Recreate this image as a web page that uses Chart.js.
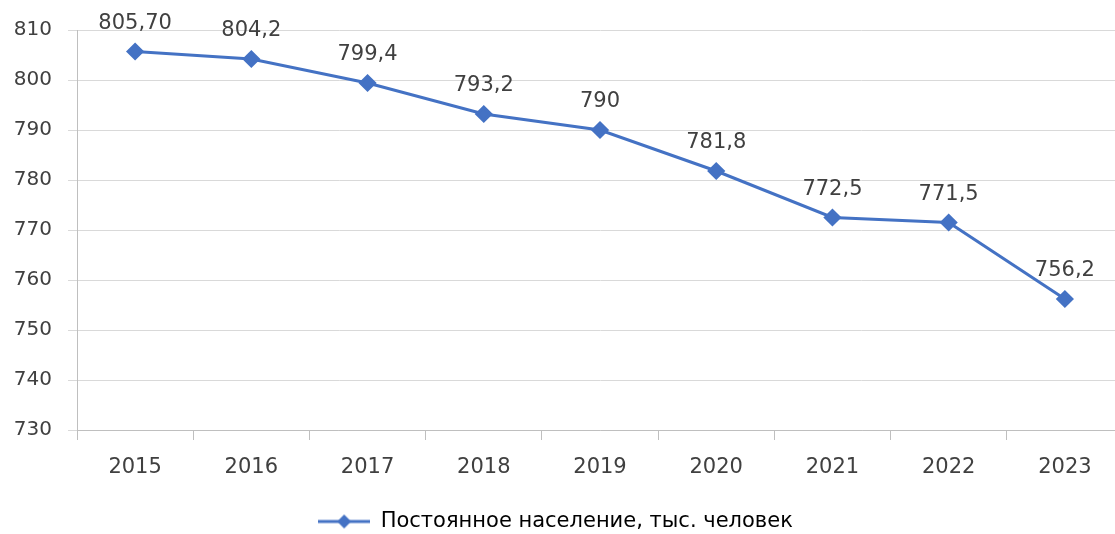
<!DOCTYPE html>
<html>
<head>
<meta charset="utf-8">
<script src="https://cdn.jsdelivr.net/npm/chart.js@4/dist/chart.umd.min.js"></script>
<style>
  html, body { margin: 0; padding: 0; background: #fff; overflow: hidden; }
  #popChart { display: block; }
</style>
</head>
<body>
<canvas id="popChart" width="1123" height="534"></canvas>
<script>
// Постоянное население по годам
const years = ["2015", "2016", "2017", "2018", "2019", "2020", "2021", "2022", "2023"];
const population = [805.7, 804.2, 799.4, 793.2, 790, 781.8, 772.5, 771.5, 756.2];
const valueLabels = ["805,70", "804,2", "799,4", "793,2", "790", "781,8", "772,5", "771,5", "756,2"];
const seriesName = "Постоянное население, тыс. человек";

const blue = "#4472C4";
const fontFamily = "'DejaVu Sans', sans-serif";

// legend marker: line with a diamond in the middle
function legendMarker() {
    const c = document.createElement("canvas");
    c.width = 52; c.height = 16;
    const g = c.getContext("2d");
    g.strokeStyle = blue;
    g.lineWidth = 3;
    g.beginPath(); g.moveTo(0, 8); g.lineTo(52, 8); g.stroke();
    g.fillStyle = blue;
    g.beginPath();
    g.moveTo(26, 1); g.lineTo(33, 8); g.lineTo(26, 15); g.lineTo(19, 8);
    g.closePath(); g.fill();
    return c;
}

// value labels above the points
const pointLabels = {
    id: "pointLabels",
    afterDatasetsDraw(chart) {
        const ctx = chart.ctx;
        const meta = chart.getDatasetMeta(0);
        ctx.save();
        ctx.font = "21px " + fontFamily;
        ctx.fillStyle = "#404040";
        ctx.textAlign = "center";
        ctx.textBaseline = "middle";
        meta.data.forEach((pt, i) => {
            ctx.fillText(valueLabels[i], pt.x, pt.y - 28);
        });
        ctx.restore();
    }
};

// the canvas is a bit wider than the window, so move the legend back to the visible centre
const legendShift = {
    id: "legendShift",
    afterLayout(chart) {
        const lg = chart.legend;
        lg.left -= 6; lg.right -= 6;
        lg.top += 8; lg.bottom += 8;
    }
};

document.addEventListener("DOMContentLoaded", function () {
    const ctx = document.getElementById("popChart");
    new Chart(ctx, {
        type: "line",
        data: {
            labels: years,
            datasets: [{
                label: seriesName,
                data: population,
                borderColor: blue,
                backgroundColor: blue,
                borderWidth: 3,
                tension: 0,
                pointStyle: "rectRot",
                pointRadius: 7,
                pointHoverRadius: 7
            }]
        },
        options: {
            responsive: false,
            animation: false,
            layout: { autoPadding: false, padding: { top: 30, right: 0, bottom: 0, left: 0 } },
            scales: {
                x: {
                    offset: true,
                    grid: {
                        offset: true,
                        drawOnChartArea: false,
                        drawTicks: true,
                        tickLength: 10,
                        color: "#bfbfbf"
                    },
                    border: { display: true, color: "#bfbfbf", width: 1 },
                    ticks: {
                        color: "#404040",
                        padding: 15,
                        font: { family: fontFamily, size: 21 }
                    },
                    afterFit(scale) { scale.height = 60; }
                },
                y: {
                    min: 730,
                    max: 810,
                    ticks: {
                        stepSize: 10,
                        color: "#404040",
                        padding: 16,
                        font: { family: fontFamily, size: 20 }
                    },
                    grid: {
                        color: "#d9d9d9",
                        lineWidth: 1,
                        tickLength: 9,
                        drawTicks: true
                    },
                    border: { display: true, color: "#bfbfbf", width: 1 },
                    afterFit(scale) { scale.width = 77; }
                }
            },
            plugins: {
                legend: {
                    position: "bottom",
                    labels: {
                        usePointStyle: true,
                        pointStyleWidth: 52,
                        color: "#404040",
                        font: { family: fontFamily, size: 21 },
                        padding: 13,
                        generateLabels(chart) {
                            return [{
                                text: seriesName,
                                pointStyle: legendMarker(),
                                fillStyle: blue,
                                strokeStyle: blue,
                                lineWidth: 0,
                                datasetIndex: 0,
                                hidden: false
                            }];
                        }
                    }
                },
                tooltip: { enabled: false }
            }
        },
        plugins: [pointLabels, legendShift]
    });
});
</script>
</body>
</html>
